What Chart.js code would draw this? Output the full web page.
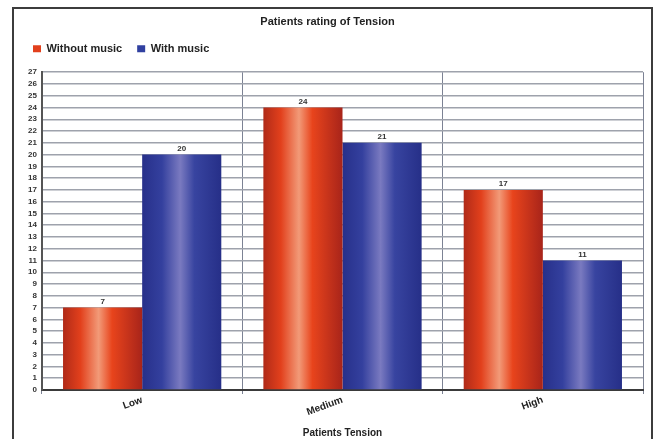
<!DOCTYPE html>
<html>
<head>
<meta charset="utf-8">
<script src="https://cdn.jsdelivr.net/npm/chart.js@4"></script>
<style>
  html, body { margin: 0; padding: 0; background: #fff; }
  #wrap { position: relative; width: 661px; height: 439px; overflow: hidden; }
  #frame { position: absolute; left: 12px; top: 7px; width: 637px; height: 450px;
           border: 2px solid #3c3c3c; border-bottom: none; }
  canvas { position: absolute; left: 0; top: 0; }
</style>
</head>
<body>
<div id="wrap">
  <div id="frame"></div>
  <canvas id="c" width="661" height="439"></canvas>
</div>
<script>
// Patients' rating of tension, with and without music
const categories = ['Low', 'Medium', 'High'];
const withoutMusic = [7, 24, 17];
const withMusic = [20, 21, 11];
const seriesNames = ['Without music', 'With music'];
const yMin = 0;
const yMax = 27;
const yStep = 1;

const FONT = '"Liberation Sans", Arial, sans-serif';

// cylinder-style shading across each bar
const shades = [
  [[0, '#b02a18'], [0.22, '#e2401c'], [0.45, '#f29a78'], [0.62, '#e8441c'], [1, '#a8241a']],
  [[0, '#27308a'], [0.25, '#34409e'], [0.48, '#7a7ac0'], [0.66, '#3844a0'], [1, '#262f88']]
];

const barShading = {
  id: 'barShading',
  beforeDatasetsDraw(chart) {
    const ctx = chart.ctx;
    chart.data.datasets.forEach((ds, di) => {
      chart.getDatasetMeta(di).data.forEach(el => {
        const g = ctx.createLinearGradient(el.x - el.width / 2, 0, el.x + el.width / 2, 0);
        shades[di].forEach(s => g.addColorStop(s[0], s[1]));
        el.options = Object.assign({}, el.options, { backgroundColor: g });
      });
    });
  }
};

// extra room under the legend, and a small indent for its items
const legendSpacing = {
  id: 'legendSpacing',
  beforeLayout(chart) {
    const lg = chart.legend;
    if (lg && !lg._spaced) {
      const fit = lg.fit;
      lg.fit = function () { fit.call(this); this.height += 8; };
      lg._spaced = true;
    }
  },
  afterLayout(chart) {
    const lg = chart.legend;
    if (lg) { lg.left += 6; lg.right += 6; }
  }
};

// value captions above the bars, on a white patch
const valueLabels = {
  id: 'valueLabels',
  afterDatasetsDraw(chart) {
    const ctx = chart.ctx;
    ctx.save();
    ctx.font = 'bold 8px ' + FONT;
    ctx.textAlign = 'center';
    ctx.textBaseline = 'middle';
    chart.data.datasets.forEach((ds, di) => {
      chart.getDatasetMeta(di).data.forEach((el, i) => {
        const txt = String(ds.data[i]);
        const w = ctx.measureText(txt).width + 8;
        const y = el.y - 6;
        ctx.fillStyle = '#fff';
        ctx.fillRect(el.x - w / 2, y - 4, w, 8);
        ctx.fillStyle = '#333';
        ctx.fillText(txt, el.x, y);
      });
    });
    ctx.restore();
  }
};

new Chart(document.getElementById('c'), {
  type: 'bar',
  data: {
    labels: categories,
    datasets: [
      { label: seriesNames[0], data: withoutMusic, backgroundColor: '#e2401c',
        categoryPercentage: 0.79, barPercentage: 1.0, borderWidth: 0 },
      { label: seriesNames[1], data: withMusic, backgroundColor: '#3040a0',
        categoryPercentage: 0.79, barPercentage: 1.0, borderWidth: 0 }
    ]
  },
  options: {
    responsive: false,
    animation: false,
    devicePixelRatio: 1,
    layout: { padding: { left: 12, right: 18, top: 8, bottom: 0 } },
    plugins: {
      title: {
        display: true,
        text: 'Patients rating of Tension',
        color: '#222',
        font: { family: FONT, size: 11, weight: 'bold' },
        padding: { top: 7, bottom: 0 }
      },
      legend: {
        position: 'top',
        align: 'start',
        labels: {
          color: '#222',
          boxWidth: 8,
          boxHeight: 7,
          padding: 15,
          font: { family: FONT, size: 11, weight: 'bold' }
        }
      },
      tooltip: { enabled: false }
    },
    scales: {
      x: {
        offset: true,
        grid: { offset: true, color: '#7c8294', lineWidth: 1, drawTicks: true, tickLength: 4 },
        border: { color: '#3a3a3a', width: 2 },
        ticks: {
          color: '#222', minRotation: 20, maxRotation: 20, padding: 0,
          font: { family: FONT, size: 10, weight: 'bold' }
        },
        title: {
          display: true, text: 'Patients Tension', color: '#222',
          font: { family: FONT, size: 10, weight: 'bold' },
          padding: { top: 4, bottom: 0 }
        },
        afterFit(scale) { scale.height = 49; }
      },
      y: {
        min: yMin, max: yMax,
        grid: { color: '#9ea2ac', lineWidth: 1.5, drawTicks: false },
        border: { color: '#555', width: 2 },
        ticks: {
          stepSize: yStep, autoSkip: false, padding: 5, color: '#333',
          font: { family: FONT, size: 8, weight: 'bold' }
        },
        afterFit(scale) { scale.width = 30; }
      }
    }
  },
  plugins: [barShading, legendSpacing, valueLabels]
});
</script>
</body>
</html>
